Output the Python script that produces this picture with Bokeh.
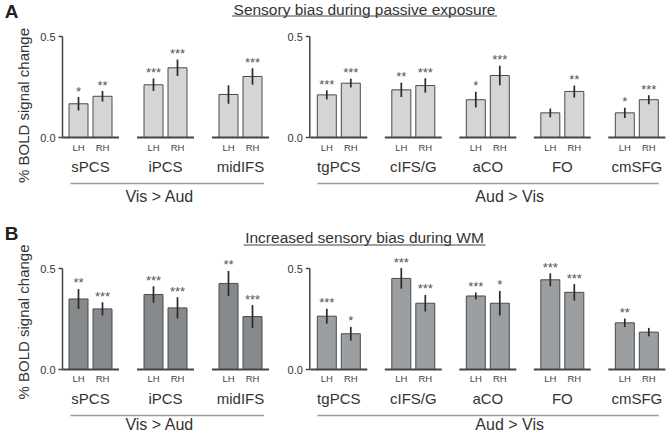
from bokeh.plotting import figure
from bokeh.models import Range1d, FixedTicker, LinearAxis, ColumnDataSource
from bokeh.layouts import column
from bokeh.embed import file_html
from bokeh.resources import INLINE
from bokeh.core.properties import value

# ---------------- data ----------------
regions_left = ["sPCS", "iPCS", "midIFS"]
regions_right = ["tgPCS", "cIFS/G", "aCO", "FO", "cmSFG"]
hemis = ["LH", "RH"]
group_left_label = "Vis > Aud"
group_right_label = "Aud > Vis"
y_ticks = [0.0, 0.5]
y_tick_labels = ["0.0", "0.5"]
y_label = "% BOLD signal change"

title_a = "Sensory bias during passive exposure"
title_b = "Increased sensory bias during WM"

# Panel A (passive exposure)
a_lh_left = [0.167, 0.261, 0.213]
a_rh_left = [0.204, 0.345, 0.302]
a_lh_left_err = [0.033, 0.031, 0.046]
a_rh_left_err = [0.026, 0.041, 0.041]
a_lh_left_sig = ["*", "***", ""]
a_rh_left_sig = ["**", "***", "***"]

a_lh_right = [0.211, 0.236, 0.187, 0.122, 0.122]
a_rh_right = [0.269, 0.257, 0.307, 0.228, 0.187]
a_lh_right_err = [0.023, 0.035, 0.039, 0.022, 0.025]
a_rh_right_err = [0.022, 0.036, 0.048, 0.030, 0.022]
a_lh_right_sig = ["***", "**", "*", "", "*"]
a_rh_right_sig = ["***", "***", "***", "**", "***"]

# Panel B (working memory)
b_lh_left = [0.349, 0.371, 0.426]
b_rh_left = [0.300, 0.305, 0.262]
b_lh_left_err = [0.050, 0.041, 0.062]
b_rh_left_err = [0.033, 0.053, 0.057]
b_lh_left_sig = ["**", "***", "**"]
b_rh_left_sig = ["***", "***", "***"]

b_lh_right = [0.264, 0.451, 0.364, 0.444, 0.231]
b_rh_right = [0.177, 0.328, 0.328, 0.382, 0.185]
b_lh_right_err = [0.037, 0.051, 0.017, 0.032, 0.021]
b_rh_right_err = [0.034, 0.041, 0.061, 0.041, 0.021]
b_lh_right_sig = ["***", "***", "***", "***", "**"]
b_rh_right_sig = ["*", "***", "*", "***", ""]

# ---------------- layout constants ----------------
FONT = "Liberation Sans"
PX = 0.5 / 101.0          # data units per pixel (vertical)
W = 666
BORDER_L = 62
U_SPAN = W - BORDER_L
TXT = "#333333"
AX = "#444444"


def make_panel(letter, title, title_half, left, right, lcolor, rcolor,
               top_px, bot_px, height, lhrh_px, glabel_px, title_px, uline_px, letter_px):
    p = figure(width=W, height=height, output_backend="svg", toolbar_location=None,
               x_range=Range1d(0, U_SPAN), y_range=Range1d(-bot_px * PX, top_px * PX),
               x_axis_type=None, min_border_left=BORDER_L, min_border_right=0,
               min_border_top=0, min_border_bottom=0)
    p.outline_line_color = None
    p.grid.visible = False
    p.background_fill_color = "white"
    p.border_fill_color = "white"

    ax = p.yaxis[0]
    ax.ticker = FixedTicker(ticks=y_ticks)
    ax.major_label_overrides = {t: l for t, l in zip(y_ticks, y_tick_labels)}
    ax.bounds = (y_ticks[0], y_ticks[-1])
    ax.minor_tick_line_color = None
    ax.major_tick_in = 0
    ax.major_tick_out = 4
    ax.axis_line_width = 1.5
    ax.axis_line_color = AX
    ax.major_tick_line_color = AX
    ax.major_tick_line_width = 1.5
    ax.major_label_text_font = FONT
    ax.major_label_text_font_size = "11px"
    ax.major_label_text_color = TXT
    ax.major_label_standoff = 3
    ax.axis_label = y_label
    ax.axis_label_text_font = FONT
    ax.axis_label_text_font_size = "15px"
    ax.axis_label_text_font_style = "normal"
    ax.axis_label_text_color = TXT
    ax.axis_label_standoff = 5

    # panel letter: the single tick label of an outer, line-less axis
    ly = round(letter_px * PX, 3)
    lax = LinearAxis(ticker=FixedTicker(ticks=[ly]), major_label_overrides={ly: letter},
                     axis_line_color=None, major_tick_line_color=None,
                     minor_tick_line_color=None, major_tick_out=0, major_tick_in=0,
                     major_label_standoff=-6, major_label_text_font=FONT,
                     major_label_text_font_size="19px", major_label_text_font_style="bold",
                     major_label_text_color="#222222")
    p.add_layout(lax, "left")

    # group geometry (pixels along x, frame-relative)
    mid_axis = 247.3
    left_lh = [16 + 75 * i for i in range(len(regions_left))]
    right_lh = [mid_axis + 17 + 74.5 * j for j in range(len(regions_right))]
    dx = 24
    bw = 19

    sets = [
        (regions_left, left_lh, left, lcolor, group_left_label, -8, 11.5, -7.5),
        (regions_right, right_lh, right, rcolor, group_right_label, -9.3, 10, 21.5),
    ]
    for names, lhx, (lv, rv, le, re_, ls, rs), color, glabel, l0, l1, loff in sets:
        xs, tops, errs, sig = [], [], [], []
        for i in range(len(names)):
            xs += [lhx[i], lhx[i] + dx]
            tops += [lv[i], rv[i]]
            errs += [le[i], re_[i]]
            sig += [ls[i], rs[i]]
        src = ColumnDataSource(dict(
            x=xs, top=tops,
            lo=[t - e for t, e in zip(tops, errs)],
            hi=[t + e for t, e in zip(tops, errs)],
            sy=[t + e + 6 * PX for t, e in zip(tops, errs)],
            sig=sig,
            hemi=hemis * len(names),
        ))
        p.vbar(x="x", top="top", bottom=0, width=bw, source=src, fill_color=color,
               line_color="#4a4a4a", line_width=1)
        p.segment(x0="x", x1="x", y0="lo", y1="hi", source=src, line_color="#2a2a2a",
                  line_width=1.7)
        p.text(x="x", y="sy", text="sig", source=src, text_align="center",
               text_baseline="middle", text_font=value(FONT),
               text_font_size="13px", text_color="#555555")
        p.text(x="x", y=-lhrh_px * PX, text="hemi", source=src, text_align="center",
               text_baseline="middle", text_font=value(FONT),
               text_font_size="9.5px", text_color="#444444")
        # baselines per region
        gsrc = ColumnDataSource(dict(
            x0=[x - 16.5 for x in lhx], x1=[x + dx + 16.5 for x in lhx],
            xc=[x + dx / 2 for x in lhx], name=names,
        ))
        p.segment(x0="x0", x1="x1", y0=0, y1=0, source=gsrc, line_color=AX, line_width=2)
        p.text(x="xc", y=-28.5 * PX, text="name", source=gsrc, text_align="center",
               text_baseline="middle", text_font=value(FONT),
               text_font_size="15px", text_color=TXT)
        # contrast line and label
        gx0 = lhx[0] + l0
        gx1 = lhx[-1] + dx + l1
        p.segment(x0=[gx0], x1=[gx1], y0=[-46 * PX], y1=[-46 * PX], line_color="#9a9a9a",
                  line_width=1.5)
        p.text(x=[(gx0 + gx1) / 2 + loff], y=[-glabel_px * PX], text=[glabel],
               text_align="center", text_baseline="middle", text_font=value(FONT),
               text_font_size="16px", text_color=TXT)

    # middle y axis (shares the y scale)
    p.segment(x0=[mid_axis], x1=[mid_axis], y0=[y_ticks[0]], y1=[y_ticks[-1]],
              line_color=AX, line_width=1.5)
    p.segment(x0=[mid_axis - 4] * len(y_ticks), x1=[mid_axis] * len(y_ticks),
              y0=y_ticks, y1=y_ticks, line_color=AX, line_width=1.5)
    p.text(x=[mid_axis - 7] * len(y_ticks), y=y_ticks, text=y_tick_labels,
           text_align="right", text_baseline="middle", text_font=value(FONT),
           text_font_size="11px", text_color=TXT)

    # title with underline
    tx = 302
    p.text(x=[tx], y=[title_px * PX], text=[title], text_align="center",
           text_baseline="middle", text_font=value(FONT),
           text_font_size="15.5px", text_color=TXT)
    p.segment(x0=[tx - title_half], x1=[tx + title_half], y0=[uline_px * PX],
              y1=[uline_px * PX], line_color="#444444", line_width=1)
    return p


pa = make_panel("A", title_a, 132.5,
                (a_lh_left, a_rh_left, a_lh_left_err, a_rh_left_err, a_lh_left_sig, a_rh_left_sig),
                (a_lh_right, a_rh_right, a_lh_right_err, a_rh_right_err, a_lh_right_sig, a_rh_right_sig),
                "#d5d5d8", "#d5d5d8", 137, 73, 210, 10, 58.5, 128, 121.5, 126)
pb = make_panel("B", title_b, 121,
                (b_lh_left, b_rh_left, b_lh_left_err, b_rh_left_err, b_lh_left_sig, b_rh_left_sig),
                (b_lh_right, b_rh_right, b_lh_right_err, b_rh_right_err, b_lh_right_sig, b_rh_right_sig),
                "#878a8d", "#9c9fa2", 159, 64, 223, 8.5, 55, 132, 124.5, 136)

layout = column(pa, pb, spacing=0)
open("out.html", "w").write(file_html(layout, INLINE))
